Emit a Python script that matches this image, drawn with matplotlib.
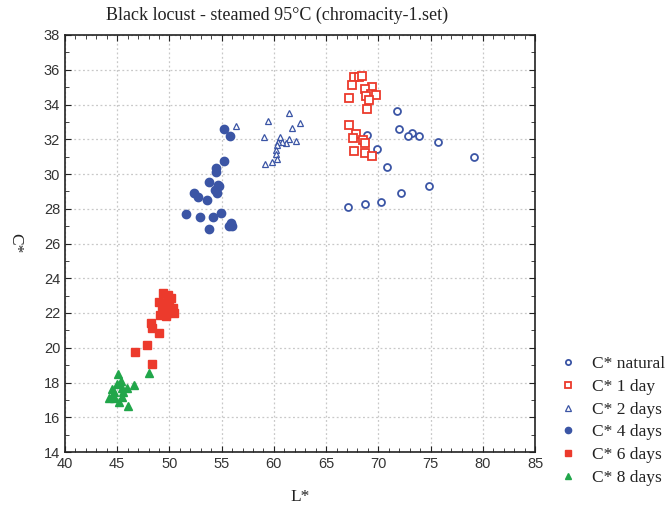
import matplotlib.pyplot as plt
from matplotlib.ticker import MultipleLocator

# C* natural
nat_L = [71.76, 68.89, 72.01, 73.20, 72.87, 73.89, 75.74, 69.87, 79.19, 70.86, 74.88, 72.14, 70.29, 68.70, 67.13]
nat_C = [33.64, 32.26, 32.61, 32.38, 32.17, 32.17, 31.84, 31.42, 30.98, 30.39, 29.33, 28.91, 28.37, 28.29, 28.12]

# C* 1 day
d1_L = [67.67, 68.18, 68.47, 67.45, 69.42, 68.70, 69.27, 69.78, 68.82, 69.14, 67.16, 68.89,
        67.16, 67.86, 67.55, 68.50, 68.75, 67.70, 68.72, 69.42]
d1_C = [35.60, 35.60, 35.66, 35.12, 35.02, 34.87, 34.62, 34.53, 34.51, 34.26, 34.36, 33.76,
        32.80, 32.30, 32.09, 31.94, 31.77, 31.34, 31.23, 31.05]

# C* 2 days
d2_L = [56.40, 61.45, 59.44, 62.47, 61.73, 59.03, 60.59, 61.42, 62.15, 61.16, 60.78, 60.37,
        60.27, 60.17, 60.17, 60.33, 59.85, 59.15]
d2_C = [32.76, 33.49, 33.07, 32.92, 32.63, 32.13, 32.15, 32.03, 31.88, 31.77, 31.82, 31.86,
        31.67, 31.38, 31.13, 30.85, 30.71, 30.58]

# C* 4 days
d4_L = [55.20, 55.77, 55.20, 54.49, 54.46, 53.76, 54.65, 54.77, 54.36, 54.53, 52.32, 52.76,
        53.62, 51.59, 52.90, 54.17, 54.91, 53.76, 55.89, 55.73, 55.96]
d4_C = [32.61, 32.19, 30.73, 30.36, 30.12, 29.52, 29.38, 29.31, 29.08, 28.91, 28.91, 28.66,
        28.49, 27.70, 27.53, 27.53, 27.77, 26.85, 27.16, 27.01, 27.01]

# C* 6 days
d6_L = [49.40, 49.89, 50.15, 49.03, 50.37, 49.40, 49.10, 49.67, 50.44, 48.21, 48.30, 49.00,
        47.85, 46.70, 48.30, 49.60, 50.00, 49.80, 50.20, 49.30]
d6_C = [23.17, 23.04, 22.85, 22.62, 22.27, 22.17, 21.88, 21.84, 21.98, 21.41, 21.12, 20.87,
        20.18, 19.76, 19.06, 22.60, 22.50, 22.00, 22.10, 22.40]

# C* 8 days
d8_L = [45.03, 45.36, 44.95, 46.64, 44.47, 45.43, 45.94, 44.72, 45.52, 44.62, 44.21, 44.69,
        45.49, 45.20, 46.06, 48.07]
d8_C = [18.47, 18.10, 17.91, 17.86, 17.61, 17.67, 17.70, 17.47, 17.44, 17.26, 17.09, 17.13,
        17.18, 16.89, 16.66, 18.56]

blue = "#3b55a5"
red = "#ec3a2c"
green = "#21a64a"

serif = "Liberation Serif"
plt.rcParams["font.family"] = "Liberation Sans"

fig = plt.figure(figsize=(6.69, 5.07), dpi=100)
ax = fig.add_axes([65 / 669, 55 / 507, 470 / 669, 417 / 507])

ax.plot(nat_L, nat_C, "o", ms=5, mfc="white", mec=blue, mew=1.3, ls="none", label="C* natural")
ax.plot(d1_L, d1_C, "s", ms=6, mfc="white", mec=red, mew=1.3, ls="none", label="C* 1 day")
ax.plot(d2_L, d2_C, "^", ms=5, mfc="white", mec=blue, mew=0.9, ls="none", label="C* 2 days")
ax.plot(d4_L, d4_C, "o", ms=6, color=blue, ls="none", label="C* 4 days")
ax.plot(d6_L, d6_C, "s", ms=6.3, color=red, ls="none", label="C* 6 days")
ax.plot(d8_L, d8_C, "^", ms=5.5, color=green, ls="none", label="C* 8 days")

ax.set_xlim(40, 85)
ax.set_ylim(14, 38)
ax.xaxis.set_major_locator(MultipleLocator(5))
ax.xaxis.set_minor_locator(MultipleLocator(1))
ax.yaxis.set_major_locator(MultipleLocator(2))
ax.yaxis.set_minor_locator(MultipleLocator(1))
ax.tick_params(which="both", direction="in", top=True, right=True, labelsize=10.5,
               color="#222222", labelcolor="#333333")
ax.tick_params(which="major", length=4)
ax.tick_params(which="minor", length=3)
ax.grid(True, which="major", ls=(0, (1.5, 2)), color="#c8c8c8", lw=0.9)
ax.set_axisbelow(True)
for s in ax.spines.values():
    s.set_linewidth(1.2)
    s.set_color("#222222")

fig.text(277 / 669, 1 - 15 / 507, "Black locust - steamed 95°C (chromacity-1.set)",
         ha="center", va="center", fontsize=13, family=serif, color="#222222")
fig.text(300 / 669, 1 - 497 / 507, "L*", ha="center", va="center", fontsize=12.5,
         family=serif, color="#222222")
fig.text(15 / 669, 1 - 243 / 507, "C*", ha="center", va="center", fontsize=12.5, family=serif,
         rotation=270, color="#222222")

handles, labels = ax.get_legend_handles_labels()
leg = fig.legend(handles, labels, loc="upper left", bbox_to_anchor=(552 / 669, 1 - 349 / 507),
                 frameon=False, prop={"family": serif, "size": 12.5}, markerscale=0.75,
                 handlelength=1.0, handletextpad=0.9, labelspacing=0.38, borderaxespad=0,
                 labelcolor="#222222")

fig.savefig("out.png", dpi=100)
